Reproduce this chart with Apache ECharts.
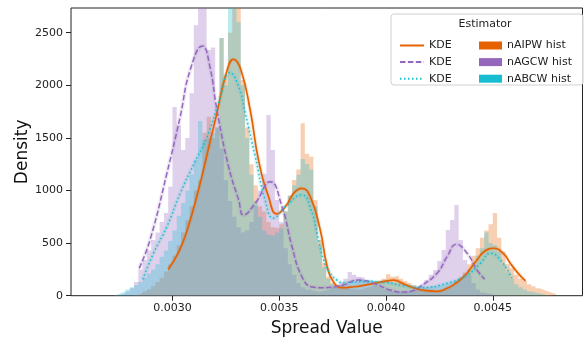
<!DOCTYPE html>
<html><head><meta charset="utf-8">
<script src="https://cdn.jsdelivr.net/npm/echarts@6/dist/echarts.min.js"></script>
<style>html,body{margin:0;padding:0;background:#fff}#c{width:584px;height:343px}</style>
</head><body><div id="c"></div>
<script>
// ---- data ----
const binStart = 0.0027;
const binWidth = 0.00002;
const histAIPW = [0,0,0,0,0,0,10,20,40,60, 90,130,170,230,300,380,480,600,720,850,
  1000,1100,1550,1700,1500,1600,2450,2100,2500,2900, 2800,2050,1600,1250,1050,850,800,700,650,640,
  680,800,950,1100,1200,1640,1350,1320,910,530, 310,180,120,100,90,70,60,60,60,70,
  80,90,110,130,160,205,180,190,160,140, 120,100,80,60,50,40,40,50,60,80,
  100,130,170,220,300,380,450,550,620,680, 785,550,420,300,260,200,160,140,110,90,
  70,55,40,25,15];
const histAGCW = [0,5,10,20,40,70,130,250,340,430, 530,600,700,785,1035,1795,1620,1385,1500,1925,
  2570,2900,2900,2335,2360,1800,1400,1100,900,750, 650,600,620,700,850,1000,1160,1717,1385,910,
  700,450,300,200,120,80,60,50,40,40, 50,60,80,100,130,160,225,200,180,170,
  150,120,100,80,60,50,40,35,35,40, 50,60,80,110,150,200,245,330,435,625,
  720,862,530,340,200,120,60,30,20,10, 0,0,0,0,0,0,0,0,0,0,
  0,0,0,0,0];
const histABCW = [0,10,25,40,60,80,100,130,170,210, 250,300,370,430,520,620,760,880,1000,1150,
  1290,1660,1480,1500,1550,1600,2450,2000,2900,2800, 2600,2000,1500,1150,900,750,620,580,570,600,
  640,800,950,1050,1150,1300,1250,1200,850,480, 270,160,110,100,100,110,120,130,140,150,
  150,145,140,140,135,130,125,120,110,105, 100,95,90,85,85,90,95,100,110,120,
  130,150,170,200,250,300,380,450,600,500, 480,420,300,220,160,110,80,60,40,30,
  20,12,5,0,0];

const kdeAIPWx = [0.00298,0.00303,0.003067,0.00312,0.003178,0.003208,0.00325,0.003286,0.00332,0.003364,0.003403,0.00345,0.003489,0.00353,0.00357,0.003606,0.003645,0.003692,0.003723,0.003753,0.003794,0.00385,0.0039,0.00395,0.004,0.004036,0.00408,0.004128,0.00418,0.004239,0.004286,0.00432,0.004364,0.0044,0.004426,0.00446,0.004504,0.00455,0.004582,0.00462,0.004653];
const kdeAIPWy = [250,420,610,990,1480,1735,2100,2247,2150,1765,1290,940,777,850,980,1021,941,625,290,133,76,85,100,120,138,149,115,76,50,42,70,110,181,270,340,420,451,400,308,210,140];
const kdeAGCWx = [0.002844,0.002895,0.002974,0.003036,0.003083,0.003141,0.003175,0.003208,0.003263,0.00331,0.003333,0.003388,0.003458,0.003513,0.00356,0.003606,0.003653,0.0037,0.00376,0.0038,0.003872,0.003942,0.00402,0.00408,0.00413,0.00416,0.004239,0.004286,0.004329,0.00438,0.004426,0.004462];
const kdeAGCWy = [260,530,1163,1700,2145,2374,2180,1770,1226,910,767,880,1084,846,466,181,83,76,85,102,149,118,54,34,50,86,213,371,488,403,244,156];
const kdeABCWx = [0.002861,0.002911,0.002974,0.003036,0.0031,0.00316,0.003216,0.00327,0.00331,0.003341,0.003388,0.003434,0.003473,0.003528,0.003606,0.00365,0.003677,0.003708,0.003739,0.00377,0.0038,0.0039,0.004,0.00408,0.00416,0.004286,0.00438,0.004442,0.004489,0.004536,0.00459];
const kdeABCWy = [156,403,656,973,1250,1500,1830,2120,1987,1735,1321,910,736,846,957,810,593,339,213,149,124,135,125,95,76,118,197,308,403,339,165];

const xTicks = [0.0030, 0.0035, 0.0040, 0.0045];
const yTicks = [0, 500, 1000, 1500, 2000, 2500];
const names = ['nAIPW', 'nAGCW', 'nABCW'];
const colors = ['#e66100', '#9467bd', '#17becf'];

// ---- build ----
const FONT = 'DejaVu Sans';
function histData(vals) {
  const d = vals.map((v, i) => [binStart + i * binWidth, v]);
  d.push([binStart + vals.length * binWidth, 0]);
  return d;
}
function zip(xs, ys) { return xs.map((x, i) => [x, ys[i]]); }
const hists = [histAIPW, histAGCW, histABCW];
const kdes = [zip(kdeAIPWx, kdeAIPWy), zip(kdeAGCWx, kdeAGCWy), zip(kdeABCWx, kdeABCWy)];
const dashTypes = ['solid', [5.5, 2.4], [1.5, 2.5]];

const series = [];
hists.forEach((h, k) => {
  series.push({
    type: 'line', name: names[k] + ' hist', data: histData(h), step: 'end',
    symbol: 'none', silent: true, z: 1,
    lineStyle: { width: 0 }, itemStyle: { color: colors[k] },
    areaStyle: { color: colors[k], opacity: 0.3 }
  });
});
kdes.forEach((d, k) => {
  series.push({
    type: 'line', name: 'halo-' + names[k], data: d, smooth: 0.5, symbol: 'none', silent: true, z: 2,
    lineStyle: { color: colors[k], width: 4, opacity: 0.14 }, itemStyle: { color: colors[k] }
  });
});
kdes.forEach((d, k) => {
  series.push({
    type: 'line', name: 'KDE-' + names[k], data: d, smooth: 0.5, symbol: 'none', silent: true, z: 3,
    lineStyle: { color: colors[k], width: k === 0 ? 1.7 : 1.5, type: dashTypes[k] }, itemStyle: { color: colors[k] }
  });
});

const chart = echarts.init(document.getElementById('c'), null, { renderer: 'canvas' });
chart.setOption({
  animation: false,
  textStyle: { fontFamily: FONT },
  grid: { left: 71, right: 1.5, top: 8, bottom: 47.3, show: true, borderColor: '#222', borderWidth: 1,
          containLabel: false, outerBoundsMode: 'none' },
  xAxis: {
    type: 'value', min: 0.002525, max: 0.00492,
    axisLine: { show: false }, splitLine: { show: false },
    axisTick: { show: true, length: 5, customValues: xTicks, lineStyle: { color: '#222' } },
    axisLabel: { customValues: xTicks, formatter: v => v.toFixed(4), fontSize: 11, color: '#222', margin: 7, fontFamily: FONT },
    name: 'Spread Value', nameLocation: 'middle', nameGap: 24, nameMoveOverlap: false,
    nameTextStyle: { fontSize: 17, color: '#111', fontFamily: FONT }
  },
  yAxis: {
    type: 'value', min: 0, max: 2735,
    axisLine: { show: false }, splitLine: { show: false },
    axisTick: { show: true, length: 5, customValues: yTicks, lineStyle: { color: '#222' } },
    axisLabel: { customValues: yTicks, formatter: v => String(v), fontSize: 11, color: '#222', margin: 8, fontFamily: FONT },
    name: 'Density', nameLocation: 'middle', nameGap: 40, nameMoveOverlap: false,
    nameTextStyle: { fontSize: 17, color: '#111', fontFamily: FONT }
  },
  legend: [
    {
      data: names.map(n => ({ name: 'KDE-' + n, itemStyle: { opacity: 0 } })),
      formatter: () => 'KDE', selectedMode: false, orient: 'vertical',
      left: 394, top: 34.5, itemWidth: 24, itemHeight: 12, itemGap: 4.6, z: 10,
      textStyle: { fontSize: 11, color: '#222', lineHeight: 12, fontFamily: FONT }
    },
    {
      data: names.map((n, k) => ({ name: n + ' hist', icon: 'rect', itemStyle: { color: colors[k], opacity: 1 } })),
      selectedMode: false, orient: 'vertical',
      left: 474, top: 34.5, itemWidth: 23, itemHeight: 8, itemGap: 4.6, z: 10,
      textStyle: { fontSize: 11, color: '#222', lineHeight: 12, fontFamily: FONT }
    }
  ],
  graphic: [
    { type: 'rect', z: 8, shape: { x: 391, y: 14, width: 192, height: 71, r: 3 },
      style: { fill: 'rgba(255,255,255,0.85)', stroke: '#d0d0d0', lineWidth: 1 } },
    { type: 'text', z: 9, x: 485, y: 24,
      style: { text: 'Estimator', fontSize: 11, fill: '#222', fontFamily: FONT, align: 'center', verticalAlign: 'middle' } }
  ],
  series: series
});
</script></body></html>
